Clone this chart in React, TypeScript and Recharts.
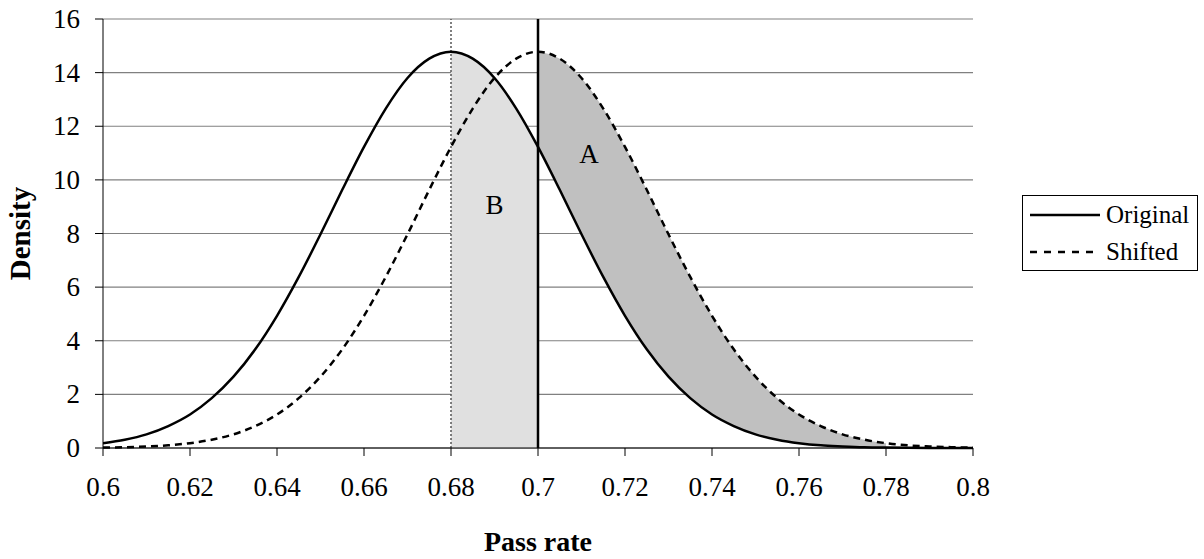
import React from "react";
import {
  Area,
  CartesianGrid,
  ComposedChart,
  Line,
  ReferenceDot,
  ReferenceLine,
  XAxis,
  YAxis,
} from "recharts";

const FONT = '"Liberation Serif", "Times New Roman", Times, serif';

// pass rate samples along the x axis
const passRate = [
  0.6, 0.605, 0.61, 0.615, 0.62, 0.625, 0.63, 0.635, 0.64, 0.645, 0.65, 0.655, 0.66, 0.665, 0.67, 0.675,
  0.68, 0.685, 0.69, 0.695, 0.7, 0.705, 0.71, 0.715, 0.72, 0.725, 0.73, 0.735, 0.74, 0.745, 0.75, 0.755,
  0.76, 0.765, 0.77, 0.775, 0.78, 0.785, 0.79, 0.795, 0.8,
];

// density
const original = [
  0.18, 0.31, 0.51, 0.82, 1.25, 1.86, 2.66, 3.68, 4.93, 6.38, 7.97, 9.63, 11.23, 12.66, 13.8, 14.52,
  14.78, 14.52, 13.8, 12.66, 11.23, 9.63, 7.97, 6.38, 4.93, 3.68, 2.66, 1.86, 1.25, 0.82, 0.51, 0.31,
  0.18, 0.1, 0.06, 0.03, 0.016, 0.008, 0.004, 0.002, 0.001,
];

// density
const shifted = [
  0.016, 0.03, 0.06, 0.1, 0.18, 0.31, 0.51, 0.82, 1.25, 1.86, 2.66, 3.68, 4.93, 6.38, 7.97, 9.63,
  11.23, 12.66, 13.8, 14.52, 14.78, 14.52, 13.8, 12.66, 11.23, 9.63, 7.97, 6.38, 4.93, 3.68, 2.66, 1.86,
  1.25, 0.82, 0.51, 0.31, 0.18, 0.1, 0.06, 0.03, 0.016,
];

const xTicks = [0.6, 0.62, 0.64, 0.66, 0.68, 0.7, 0.72, 0.74, 0.76, 0.78, 0.8];
const yTicks = [0, 2, 4, 6, 8, 10, 12, 14, 16];

// shaded regions
const bStart = 0.68;
const bEnd = 0.7;
const aStart = 0.7;
const aEnd = 0.78;

const regionLabels = [
  { name: "A", x: 0.7117, y: 11.0 },
  { name: "B", x: 0.69, y: 9.1 },
];

const data = passRate.map((x, i) => ({
  x,
  original: original[i],
  shifted: shifted[i],
  b: x >= bStart && x <= bEnd ? original[i] : null,
  a: x >= aStart && x <= aEnd ? [original[i], shifted[i]] : null,
}));

function XTick(props: any) {
  const { x, y, payload } = props;
  return (
    <text x={x} y={y + 38} textAnchor="middle" fontSize={27} fill="#000" fontFamily={FONT}>
      {String(payload.value)}
    </text>
  );
}

function YTick(props: any) {
  const { x, y, payload } = props;
  return (
    <text x={x - 13} y={y + 9} textAnchor="end" fontSize={27} fill="#000" fontFamily={FONT}>
      {String(payload.value)}
    </text>
  );
}

function Legend() {
  const row = (dash: string | undefined, label: string) => (
    <div style={{ display: "flex", alignItems: "center", height: 37 }}>
      <svg width={72} height={10} style={{ marginLeft: 7 }}>
        <line x1={0} y1={5} x2={70} y2={5} stroke="#000" strokeWidth={2.5} strokeDasharray={dash} />
      </svg>
      <span style={{ fontSize: 25, marginLeft: 4, fontFamily: FONT, lineHeight: "37px" }}>{label}</span>
    </div>
  );
  return (
    <div
      style={{
        position: "absolute",
        left: 1022,
        top: 195,
        width: 174,
        height: 74,
        border: "1px solid #000",
        fontFamily: FONT,
        background: "#fff",
        overflow: "hidden",
      }}
    >
      {row(undefined, "Original")}
      {row("7 7", "Shifted")}
    </div>
  );
}

export default function App() {
  return (
    <div
      style={{
        position: "absolute",
        left: 0,
        top: 0,
        width: 1204,
        height: 559,
        background: "#fff",
        fontFamily: FONT,
      }}
    >
      <ComposedChart
        width={1204}
        height={559}
        data={data}
        margin={{ top: 19, right: 231, bottom: 0, left: 0 }}
        style={{ fontFamily: FONT }}
      >
        <CartesianGrid vertical={false} stroke="#808080" strokeWidth={1.2} />
        <XAxis
          dataKey="x"
          type="number"
          domain={[0.6, 0.8]}
          ticks={xTicks}
          tick={<XTick />}
          tickSize={8}
          height={111}
          stroke="#000"
          allowDataOverflow
          label={{
            value: "Pass rate",
            position: "insideBottom",
            offset: 8,
            style: { fontSize: 28, fontWeight: "bold", fill: "#000", fontFamily: FONT },
          }}
        />
        <YAxis
          type="number"
          domain={[0, 16]}
          ticks={yTicks}
          tick={<YTick />}
          tickSize={8}
          width={103}
          stroke="#000"
          label={{
            value: "Density",
            angle: -90,
            position: "insideLeft",
            offset: 20,
            style: { fontSize: 29, fontWeight: "bold", fill: "#000", fontFamily: FONT, textAnchor: "middle" },
          }}
        />
        <Area
          dataKey="b"
          type="monotone"
          fill="#e0e0e0"
          fillOpacity={1}
          stroke="none"
          isAnimationActive={false}
          activeDot={false}
        />
        <Area
          dataKey="a"
          type="monotone"
          fill="#c0c0c0"
          fillOpacity={1}
          stroke="none"
          isAnimationActive={false}
          activeDot={false}
        />
        <ReferenceLine x={bStart} stroke="#555" strokeWidth={1.5} strokeDasharray="2 2" />
        <ReferenceLine x={aStart} stroke="#000" strokeWidth={2.5} />
        <Line
          dataKey="original"
          type="monotone"
          stroke="#000"
          strokeWidth={2.5}
          dot={false}
          isAnimationActive={false}
        />
        <Line
          dataKey="shifted"
          type="monotone"
          stroke="#000"
          strokeWidth={2.5}
          strokeDasharray="7 5"
          dot={false}
          isAnimationActive={false}
        />
        {regionLabels.map((p) => (
          <ReferenceDot
            key={p.name}
            x={p.x}
            y={p.y}
            r={0}
            fill="none"
            stroke="none"
            label={{ value: p.name, position: "center", style: { fontSize: 27, fill: "#000", fontFamily: FONT } }}
          />
        ))}
      </ComposedChart>
      <Legend />
    </div>
  );
}
